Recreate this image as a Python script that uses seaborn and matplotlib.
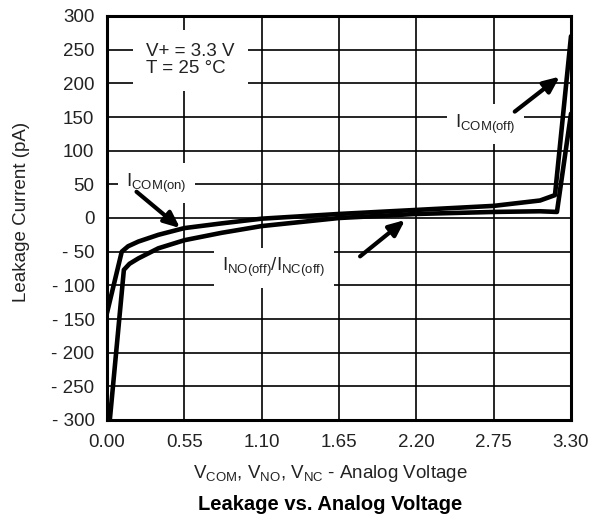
import matplotlib
matplotlib.use("Agg")
import matplotlib.pyplot as plt
import seaborn as sns
import pandas as pd

# Data
upper_x = [0.0, 0.105, 0.15, 0.223, 0.365, 0.55, 0.815, 1.10, 1.65, 2.20, 2.75, 3.08, 3.186, 3.30]
upper_y = [-141, -50, -42, -35, -25, -15, -8, -1, 6, 12, 18, 26, 34, 270]
lower_x = [0.02, 0.12, 0.16, 0.223, 0.365, 0.55, 0.815, 1.10, 1.65, 2.20, 2.75, 3.08, 3.20, 3.30]
lower_y = [-300, -77, -68, -60, -45, -33, -22, -12, 0, 6, 9, 10, 9, 155]

x_ticks = [0.00, 0.55, 1.10, 1.65, 2.20, 2.75, 3.30]
x_tick_labels = ["0.00", "0.55", "1.10", "1.65", "2.20", "2.75", "3.30"]
y_ticks = [-300, -250, -200, -150, -100, -50, 0, 50, 100, 150, 200, 250, 300]
y_tick_labels = ["- 300", "- 250", "- 200", "- 150", "- 100", "- 50", "0",
                 "50", "100", "150", "200", "250", "300"]

sns.set_theme(style="white")
plt.rcParams['font.family'] = ['Liberation Sans', 'DejaVu Sans']
plt.rcParams['mathtext.fontset'] = 'custom'
plt.rcParams['mathtext.rm'] = 'Liberation Sans'
plt.rcParams['mathtext.it'] = 'Liberation Sans'

df = pd.concat([
    pd.DataFrame({"V": upper_x, "I": upper_y, "curve": "a"}),
    pd.DataFrame({"V": lower_x, "I": lower_y, "curve": "b"}),
])

W, H = 597, 517
fig = plt.figure(figsize=(W/100, H/100), dpi=100)
ax = fig.add_axes([107/W, 1 - 420/H, (571-107)/W, (420-16)/H])

sns.lineplot(data=df, x="V", y="I", hue="curve", palette=["black", "black"],
             estimator=None, sort=False, linewidth=3.3, legend=False, ax=ax,
             zorder=3)

FS = 13.5
TXT = '#222222'
ax.set_xlim(0, 3.3)
ax.set_ylim(-300, 300)
ax.set_xticks(x_ticks)
ax.set_xticklabels(x_tick_labels)
ax.set_yticks(y_ticks)
ax.set_yticklabels(y_tick_labels)
ax.tick_params(axis='both', length=0, labelsize=FS, colors=TXT)
ax.tick_params(axis='y', pad=9)
ax.tick_params(axis='x', pad=10)
ax.grid(True, color='black', linewidth=1.2)
ax.set_axisbelow(True)
for s in ax.spines.values():
    s.set_color('black')
    s.set_linewidth(2.2)
    s.set_zorder(5)

ax.set_xlabel("")
ax.set_ylabel("")
fig.text(22/W, 1 - 212/H, "Leakage Current (pA)", rotation=90, ha='center',
         va='center', fontsize=FS, color=TXT)
fig.text(330/W, 1 - 473/H,
         r"V$_{\mathrm{COM}}$, V$_{\mathrm{NO}}$, V$_{\mathrm{NC}}$ - Analog Voltage",
         ha='center', va='center', fontsize=FS, color=TXT)
fig.text(330/W, 1 - 504/H, "Leakage vs. Analog Voltage",
         ha='center', va='center', fontsize=14.5, fontweight='bold', color='black')

ax.text(0.28, 234, "V+ = 3.3 V\nT = 25 °C", fontsize=FS, color=TXT,
        va='center', ha='left',
        bbox=dict(facecolor='white', edgecolor='none', boxstyle='square,pad=0.7'),
        linespacing=1.0, zorder=4)
box = dict(facecolor='white', edgecolor='none', boxstyle='square,pad=0.45')
ax.text(0.135, 52, r"I$_{\mathrm{COM(on)}}$", fontsize=FS, color=TXT,
        va='center', ha='left', bbox=box, zorder=4)
ax.text(2.475, 139, r"I$_{\mathrm{COM(off)}}$", fontsize=FS, color=TXT,
        va='center', ha='left', bbox=box, zorder=4)
ax.text(0.82, -74, r"I$_{\mathrm{NO(off)}}$/I$_{\mathrm{NC(off)}}$", fontsize=FS,
        color=TXT, va='center', ha='left', bbox=box, zorder=4)

arrow = dict(arrowstyle='-|>,head_length=0.8,head_width=0.35', color='black', lw=3,
             shrinkA=0, shrinkB=0)
ax.annotate("", xy=(0.52, -15), xytext=(0.21, 39), arrowprops=arrow, zorder=4)
ax.annotate("", xy=(3.22, 210), xytext=(2.90, 158), arrowprops=arrow, zorder=4)
ax.annotate("", xy=(2.12, -3), xytext=(1.80, -57), arrowprops=arrow, zorder=4)

fig.savefig("out.png", dpi=100)
